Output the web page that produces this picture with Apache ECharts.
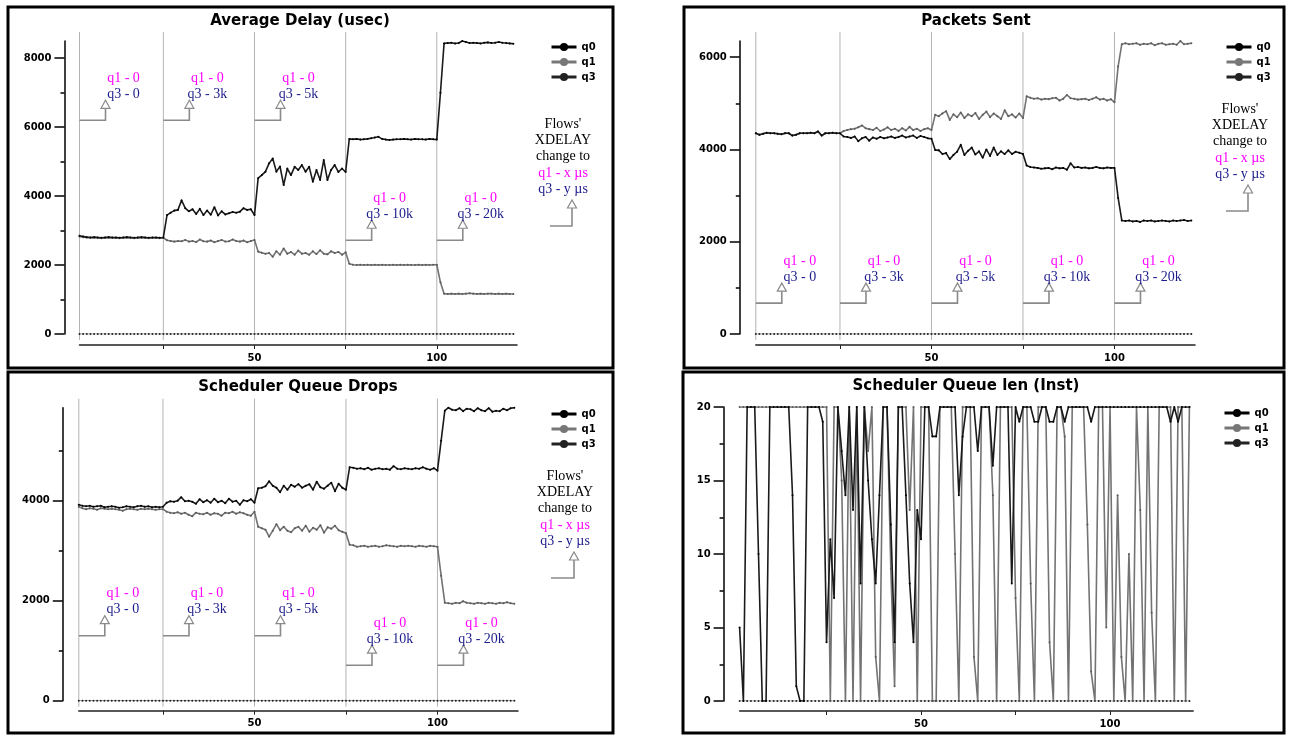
<!DOCTYPE html>
<html><head><meta charset="utf-8">
<script src="https://cdn.jsdelivr.net/npm/echarts@6/dist/echarts.min.js"></script>
<style>html,body{margin:0;padding:0;background:#fff}#c{width:1289px;height:735px}</style>
</head><body><div id="c"></div>
<script>
// ---------------- DATA ----------------
const TIME = [2,3,4,5,6,7,8,9,10,11,12,13,14,15,16,17,18,19,20,21,22,23,24,25,26,27,28,29,30,31,
32,33,34,35,36,37,38,39,40,41,42,43,44,45,46,47,48,49,50,51,52,53,54,55,56,57,58,59,60,61,
62,63,64,65,66,67,68,69,70,71,72,73,74,75,76,77,78,79,80,81,82,83,84,85,86,87,88,89,90,91,
92,93,94,95,96,97,98,99,100,101,102,103,104,105,106,107,108,109,110,111,112,113,114,115,116,117,118,119,120,121];

const Q0_ZERO = [0,0,0,0,0,0,0,0,0,0, 0,0,0,0,0,0,0,0,0,0, 0,0,0,0,0,0,0,0,0,0, 0,0,0,0,0,0,0,0,0,0,
0,0,0,0,0,0,0,0,0,0, 0,0,0,0,0,0,0,0,0,0, 0,0,0,0,0,0,0,0,0,0, 0,0,0,0,0,0,0,0,0,0,
0,0,0,0,0,0,0,0,0,0, 0,0,0,0,0,0,0,0,0,0, 0,0,0,0,0,0,0,0,0,0, 0,0,0,0,0,0,0,0,0,0];

const DELAY_Q3 = [2850,2830,2810,2800,2810,2800,2790,2800,2810,2800,
2800,2790,2800,2810,2800,2790,2800,2810,2800,2790,
2800,2800,2790,2800,3450,3520,3580,3600,3880,3650,
3560,3620,3480,3630,3450,3580,3460,3680,3440,3560,
3470,3500,3540,3520,3550,3650,3600,3620,3450,4520,
4610,4710,4950,5090,4710,4860,4320,4800,4610,4850,
4760,4900,4710,4850,4420,4760,4470,5050,4470,4760,
4900,4700,4800,4700,5660,5650,5660,5640,5650,5660,
5680,5700,5720,5660,5640,5630,5640,5650,5650,5660,
5650,5640,5660,5650,5650,5640,5660,5650,5640,7000,
8430,8440,8450,8430,8440,8500,8470,8440,8450,8440,
8430,8450,8460,8440,8450,8470,8450,8440,8430,8420];
const DELAY_Q1 = [2830,2810,2800,2790,2800,2790,2780,2790,2800,2790,
2790,2780,2790,2800,2790,2780,2790,2800,2790,2780,
2790,2790,2780,2790,2720,2700,2680,2700,2690,2730,
2680,2700,2670,2740,2690,2680,2710,2660,2700,2730,
2680,2690,2740,2700,2680,2710,2660,2700,2730,2390,
2360,2330,2350,2240,2400,2300,2480,2330,2380,2300,
2420,2330,2350,2300,2400,2320,2430,2330,2310,2400,
2350,2380,2300,2370,2040,2010,2000,2010,2000,2010,
2000,2010,2000,2010,2000,2000,2010,2000,2010,2000,
2010,2000,2000,2010,2000,2010,2000,2010,2010,1500,
1170,1160,1170,1160,1170,1160,1170,1180,1170,1160,
1170,1160,1170,1170,1160,1170,1160,1170,1160,1160];

const SENT_Q1 = [4350,4320,4340,4360,4350,4350,4340,4330,4350,4350,
4300,4320,4350,4350,4350,4360,4350,4390,4300,4350,
4350,4360,4350,4350,4400,4420,4440,4450,4480,4520,
4460,4440,4420,4470,4400,4430,4480,4420,4450,4400,
4460,4410,4490,4420,4450,4400,4440,4460,4420,4750,
4720,4780,4830,4640,4760,4700,4800,4680,4760,4720,
4790,4660,4750,4820,4700,4780,4720,4660,4850,4720,
4760,4690,4780,4680,5150,5120,5100,5110,5080,5100,
5090,5110,5120,5060,5100,5180,5110,5100,5080,5090,
5100,5070,5100,5130,5080,5100,5060,5090,5020,5800,
6280,6300,6280,6290,6300,6270,6290,6280,6300,6260,
6290,6300,6270,6280,6290,6270,6350,6280,6290,6300];
const SENT_Q3 = [4350,4320,4340,4360,4350,4350,4340,4330,4350,4350,
4300,4320,4350,4350,4350,4360,4350,4390,4300,4350,
4350,4360,4350,4350,4280,4270,4250,4280,4180,4240,
4270,4190,4260,4230,4270,4240,4260,4280,4250,4270,
4300,4260,4280,4300,4250,4290,4270,4240,4230,3990,
3980,3900,3920,3790,3880,3950,4100,3880,3970,4040,
3890,3960,3820,4000,3860,4040,3880,3960,3900,3980,
3900,3950,3930,3900,3650,3620,3610,3600,3580,3590,
3600,3570,3610,3590,3600,3560,3700,3610,3620,3600,
3610,3590,3600,3620,3600,3590,3610,3600,3600,2950,
2460,2450,2460,2440,2450,2430,2460,2450,2460,2440,
2450,2460,2450,2440,2460,2450,2460,2470,2450,2460];

const DROPS_Q3 = [3920,3900,3890,3900,3880,3890,3900,3870,3880,3890,
3880,3860,3870,3890,3880,3870,3890,3900,3880,3890,
3870,3880,3870,3880,3960,3990,3980,4000,4070,3990,
4000,3980,3940,4030,3970,4010,3960,4040,3970,4000,
3950,4040,3980,4000,3920,4010,3990,4030,3960,4250,
4260,4290,4390,4300,4260,4170,4300,4220,4320,4280,
4330,4260,4300,4330,4220,4380,4270,4240,4300,4360,
4190,4340,4260,4220,4670,4660,4640,4650,4630,4660,
4620,4640,4650,4630,4640,4620,4690,4640,4630,4650,
4640,4630,4650,4640,4670,4640,4620,4650,4600,5200,
5800,5860,5820,5810,5850,5790,5840,5830,5790,5850,
5810,5790,5850,5780,5800,5790,5840,5810,5850,5860];
const DROPS_Q1 = [3880,3850,3830,3850,3840,3820,3850,3840,3830,3840,
3830,3820,3800,3830,3840,3830,3820,3840,3830,3840,
3830,3820,3830,3830,3780,3760,3750,3770,3740,3760,
3720,3690,3760,3740,3730,3760,3720,3750,3740,3700,
3760,3750,3780,3740,3770,3750,3720,3700,3780,3480,
3450,3420,3280,3400,3530,3410,3480,3400,3370,3450,
3480,3400,3500,3380,3460,3420,3510,3360,3470,3440,
3500,3410,3380,3350,3120,3110,3080,3090,3100,3080,
3090,3100,3080,3090,3110,3100,3090,3080,3100,3090,
3100,3090,3080,3100,3090,3080,3100,3090,3080,2500,
1960,1950,1940,1960,1950,1990,1960,1950,1940,1960,
1950,1940,1960,1950,1940,1960,1950,1970,1950,1940];

const QLEN_Q3 = [5,0,20,20,20,10,0,0,20,20,
20,20,20,20,14,1,0,0,20,20,
20,20,19,4,11,7,20,17,14,20,
13,20,8,20,15,11,8,14,20,20,
12,4,20,20,14,8,4,13,11,20,
20,18,18,20,20,20,20,20,14,18,
20,20,20,17,20,20,20,16,20,20,
20,20,8,20,19,20,20,20,19,19,
20,20,19,19,20,20,19,20,20,20,
20,20,20,19,20,20,20,20,20,20,
20,20,20,20,20,20,20,20,20,20,
20,20,20,20,19,20,19,20,20,20];
const QLEN_Q1 = [20,20,20,20,20,20,20,20,20,20,
20,20,20,20,20,20,20,20,20,20,
20,20,20,20,0,20,20,15,0,20,
0,20,0,20,17,20,3,0,20,20,
9,1,20,20,20,13,20,0,20,20,
20,0,0,20,20,20,20,10,0,20,
20,20,3,0,20,20,20,14,0,20,
20,20,20,7,0,20,20,8,0,20,
20,20,4,0,20,20,18,0,20,20,
20,20,12,2,0,20,20,5,20,0,
14,3,0,10,0,20,13,0,20,6,
0,20,20,20,20,0,20,20,0,20];

const SERIES_NAMES = ['q0', 'q1', 'q3'];
const TITLES = ['Average Delay (usec)', 'Packets Sent', 'Scheduler Queue Drops', 'Scheduler Queue len (Inst)'];
const PHASE_STARTS = [2, 25, 50, 75, 100];
const ANN_Q1_LABELS = ['q1 - 0', 'q1 - 0', 'q1 - 0', 'q1 - 0', 'q1 - 0'];
const ANN_Q3_LABELS = ['q3 - 0', 'q3 - 3k', 'q3 - 5k', 'q3 - 10k', 'q3 - 20k'];
const FLOWS_LINES = ["Flows'", 'XDELAY', 'change to', 'q1 - x \u00b5s', 'q3 - y \u00b5s'];
const X_TICKS = [25, 50, 75, 100];
const X_LABELS = [50, 100];
const Y_TICKS_DELAY = [0, 2000, 4000, 6000, 8000];
const Y_MINOR_DELAY = [1000, 3000, 5000, 7000];
const Y_TICKS_SENT = [0, 2000, 4000, 6000];
const Y_MINOR_SENT = [1000, 3000, 5000];
const Y_TICKS_DROPS = [0, 2000, 4000];
const Y_MINOR_DROPS = [1000, 3000, 5000];
const Y_TICKS_QLEN = [0, 5, 10, 15, 20];
const Y_MINOR_QLEN = [2.5, 7.5, 12.5, 17.5];

// ---------------- LAYOUT / STYLE ----------------
const PANELS = [
  { title: 0, box: [8, 7, 605, 361], tx: 300, ty: 21,
    grid: { left: 79.5, top: 41, width: 437.5, height: 293 }, yMax: 8500, yOff: 15, xOff: 11,
    yTicks: Y_TICKS_DELAY, yMinor: Y_MINOR_DELAY, q1: DELAY_Q1, q3: DELAY_Q3,
    legend: [550, 42], vlines: true, ann: [6200, 6200, 6200, 2720, 2720],
    flows: { cx: 563, y0: 124, ax: 572, ay: 226, al: 550 } },
  { title: 1, box: [684, 7, 600, 361], tx: 976, ty: 21,
    grid: { left: 755.8, top: 41, width: 439.2, height: 293 }, yMax: 6350, yOff: 16, xOff: 11,
    yTicks: Y_TICKS_SENT, yMinor: Y_MINOR_SENT, q1: SENT_Q1, q3: SENT_Q3,
    legend: [1225, 42], vlines: true, ann: [670, 670, 670, 670, 670],
    flows: { cx: 1240, y0: 109, ax: 1248, ay: 211, al: 1226 } },
  { title: 2, box: [8, 372, 605, 361], tx: 298, ty: 387,
    grid: { left: 78.8, top: 407.7, width: 439.2, height: 293 }, yMax: 5860, yOff: 16, xOff: 10,
    yTicks: Y_TICKS_DROPS, yMinor: Y_MINOR_DROPS, q1: DROPS_Q1, q3: DROPS_Q3,
    legend: [550, 409], vlines: true, ann: [1300, 1300, 1300, 710, 710],
    flows: { cx: 565, y0: 476, ax: 574, ay: 578, al: 551 } },
  { title: 3, box: [683, 372, 601, 361], tx: 966, ty: 386,
    grid: { left: 739.6, top: 407, width: 453.6, height: 294 }, yMax: 20, yOff: 16, xOff: 10,
    yTicks: Y_TICKS_QLEN, yMinor: Y_MINOR_QLEN, q1: QLEN_Q1, q3: QLEN_Q3,
    legend: [1223, 408], vlines: false, ann: null, flows: null }
];

const AX_FONT = { fontFamily: 'DejaVu Sans', fontWeight: 'bold', fontSize: 10, color: '#000' };
const SERIF = '14px "Liberation Serif", "DejaVu Serif", serif';
const MAGENTA = '#ff00ff';
const NAVY = '#1c1c8c';
const ARROW = '#8a8a8a';

function pair(vals) { return TIME.map((t, i) => [t, vals[i]]); }
function plain(v) { return String(v); }

function vlineRender(params, api) {
  const p = api.coord([api.value(0), 0]);
  const cs = params.coordSys;
  return { type: 'line', shape: { x1: p[0], y1: cs.y - 9, x2: p[0], y2: cs.y + cs.height + 6 },
    style: { stroke: '#b4b4b4', lineWidth: 1 } };
}
function txt(text, x, y, fill, font) {
  return { type: 'text', style: { text, x, y, fill, font, align: 'center', verticalAlign: 'middle',
    textAlign: 'center', textVerticalAlign: 'middle' } };
}
function annRender(params, api) {
  const i = params.dataIndex;
  const p = api.coord([api.value(0), api.value(1)]);
  const cx = p[0] + 26;
  return { type: 'group', children: [
    { type: 'polyline', shape: { points: [[p[0], p[1]], [cx, p[1]], [cx, p[1] - 12]] },
      style: { stroke: ARROW, lineWidth: 1.6, fill: null } },
    { type: 'polygon', shape: { points: [[cx - 4.5, p[1] - 12], [cx + 4.5, p[1] - 12], [cx, p[1] - 20]] },
      style: { fill: '#fff', stroke: ARROW, lineWidth: 1.2 } },
    txt(ANN_Q1_LABELS[i], p[0] + 44, p[1] - 42, MAGENTA, SERIF),
    txt(ANN_Q3_LABELS[i], p[0] + 44, p[1] - 26, NAVY, SERIF)
  ] };
}

const option = { animation: false, backgroundColor: '#fff', grid: [], xAxis: [], yAxis: [], series: [], legend: [], graphic: [] };

PANELS.forEach((P, k) => {
  option.grid.push(Object.assign({ containLabel: false }, P.grid));
  option.xAxis.push({ gridIndex: k, type: 'value', min: 2, max: 122, position: 'bottom', offset: P.xOff,
    axisLine: { onZero: false, lineStyle: { color: '#222', width: 1.5 } },
    axisTick: { customValues: X_TICKS, length: 4, lineStyle: { color: '#222', width: 1 } },
    axisLabel: Object.assign({ customValues: X_LABELS, margin: 8, formatter: plain }, AX_FONT),
    splitLine: { show: false } });
  option.yAxis.push({ gridIndex: k, type: 'value', min: 0, max: P.yMax, position: 'left', offset: P.yOff,
    axisLine: { show: true, onZero: false, lineStyle: { color: '#000', width: 1.5 } },
    axisTick: { show: true, customValues: P.yTicks, length: 10, lineStyle: { color: '#000', width: 1.5 } },
    axisLabel: Object.assign({ customValues: P.yTicks, margin: 13, formatter: plain }, AX_FONT),
    splitLine: { show: false } });
  option.yAxis.push({ gridIndex: k, type: 'value', min: 0, max: P.yMax, position: 'left', offset: P.yOff,
    axisLine: { show: false }, axisLabel: { show: false }, splitLine: { show: false },
    axisTick: { show: true, customValues: P.yMinor, length: 4, lineStyle: { color: '#000', width: 1.5 } } });
  const yi = 2 * k;
  if (P.vlines) {
    option.series.push({ type: 'custom', xAxisIndex: k, yAxisIndex: yi, silent: true, clip: false,
      data: PHASE_STARTS.map(x => [x]), renderItem: vlineRender, encode: { x: 0 } });
  }
  option.series.push({ name: 'q0', type: 'line', xAxisIndex: k, yAxisIndex: yi, data: pair(Q0_ZERO),
    symbol: 'circle', symbolSize: 2, showAllSymbol: true, lineStyle: { color: '#9a9a9a', width: 1 },
    itemStyle: { color: '#222' } });
  option.series.push({ name: 'q1', type: 'line', xAxisIndex: k, yAxisIndex: yi, data: pair(P.q1),
    symbol: 'circle', symbolSize: 2, showAllSymbol: true, lineStyle: { color: '#737373', width: 1.6 },
    itemStyle: { color: '#5a5a5a' } });
  option.series.push({ name: 'q3', type: 'line', xAxisIndex: k, yAxisIndex: yi, data: pair(P.q3),
    symbol: 'circle', symbolSize: 2, showAllSymbol: true, lineStyle: { color: '#1a1a1a', width: 1.6 },
    itemStyle: { color: '#000' } });
  if (P.ann) {
    option.series.push({ type: 'custom', xAxisIndex: k, yAxisIndex: yi, silent: true, clip: false, z: 5,
      data: PHASE_STARTS.map((x, i) => [x, P.ann[i]]), renderItem: annRender, encode: { x: 0, y: 1 } });
  }
  option.legend.push({ left: P.legend[0], top: P.legend[1], orient: 'vertical', itemWidth: 25, itemHeight: 10,
    itemGap: 5, selectedMode: false, padding: 0,
    textStyle: { fontFamily: 'DejaVu Sans', fontWeight: 'bold', fontSize: 10, color: '#000' },
    data: [
      { name: 'q0', itemStyle: { color: '#000' }, lineStyle: { color: '#000', width: 3 } },
      { name: 'q1', itemStyle: { color: '#777' }, lineStyle: { color: '#777', width: 3 } },
      { name: 'q3', itemStyle: { color: '#222' }, lineStyle: { color: '#222', width: 3 } }
    ] });
  option.graphic.push({ type: 'rect', shape: { x: P.box[0], y: P.box[1], width: P.box[2], height: P.box[3] },
    style: { fill: null, stroke: '#000', lineWidth: 3 }, silent: true, z: 100 });
  option.graphic.push(txt(TITLES[P.title], P.tx, P.ty, '#000', 'bold 15px "DejaVu Sans"'));
  if (P.flows) {
    const F = P.flows;
    const colors = ['#000', '#000', '#000', MAGENTA, NAVY];
    FLOWS_LINES.forEach((s, i) => option.graphic.push(txt(s, F.cx, F.y0 + i * 16.3, colors[i], SERIF)));
    option.graphic.push({ type: 'polyline', shape: { points: [[F.al, F.ay], [F.ax, F.ay], [F.ax, F.ay - 18]] },
      style: { stroke: ARROW, lineWidth: 1.6, fill: null } });
    option.graphic.push({ type: 'polygon', shape: { points: [[F.ax - 4.5, F.ay - 18], [F.ax + 4.5, F.ay - 18], [F.ax, F.ay - 26]] },
      style: { fill: '#fff', stroke: ARROW, lineWidth: 1.2 } });
  }
});

const chart = echarts.init(document.getElementById('c'), null, { renderer: 'canvas' });
chart.setOption(option);
</script></body></html>
